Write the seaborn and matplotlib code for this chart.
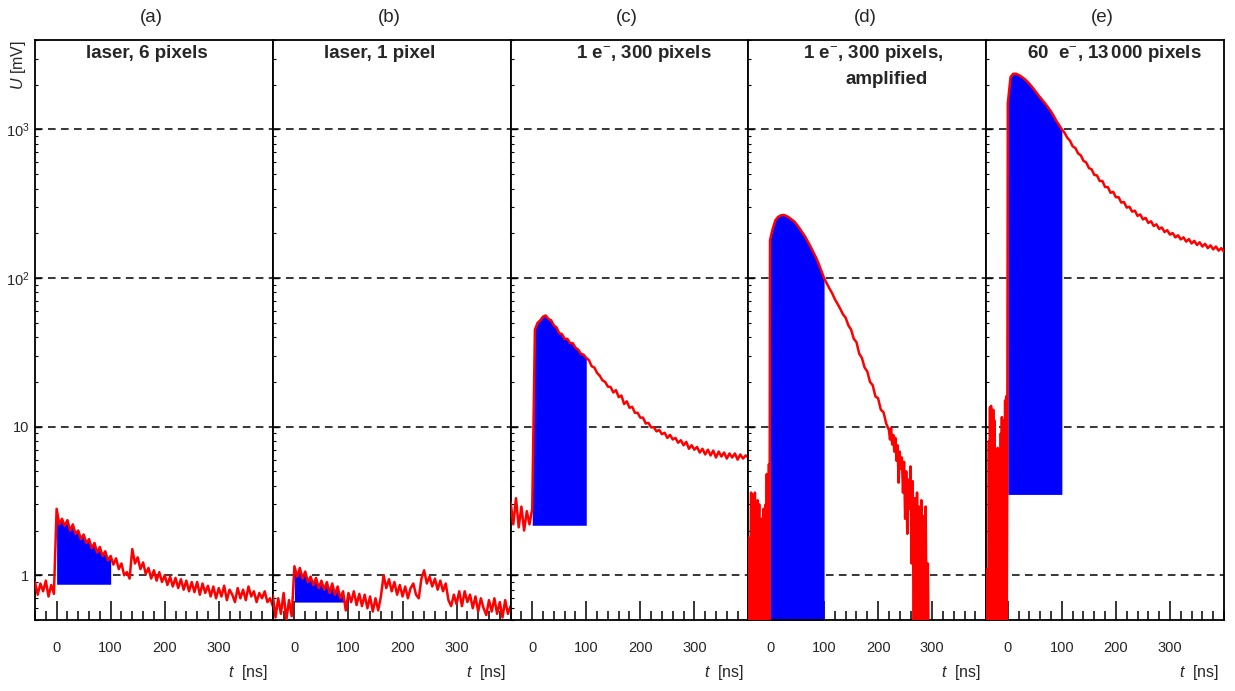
import numpy as np
import pandas as pd
import matplotlib
matplotlib.use("Agg")
import matplotlib.pyplot as plt
import seaborn as sns
from matplotlib.ticker import (FixedLocator, FixedFormatter, MultipleLocator,
                               LogLocator, NullFormatter)

sns.set_theme(style="ticks")
plt.rcParams["font.family"] = ["Liberation Sans", "DejaVu Sans"]
plt.rcParams["mathtext.fontset"] = "custom"
plt.rcParams["mathtext.rm"] = "Liberation Sans"
plt.rcParams["mathtext.it"] = "Liberation Sans:italic"
plt.rcParams["mathtext.bf"] = "Liberation Sans:bold"

# ---------------- data ----------------
panel_tags = ["(a)", "(b)", "(c)", "(d)", "(e)"]
panel_labels = ["laser, 6 pixels", "laser, 1 pixel", "1 e$^{-}$, 300 pixels",
                "1 e$^{-}$, 300 pixels,", "60  e$^{-}$, 13$\\,$000 pixels"]
panel_label2 = ["", "", "", "amplified", ""]
ytick_vals = [1, 10, 100, 1000]
ytick_labels = ["1", "10", "$10^2$", "$10^3$"]
xtick_vals = [0, 100, 200, 300]
xtick_labels = ["0", "100", "200", "300"]
fill_start, fill_end = 0, 100
fill_base = [0.87, 0.66, 2.17, 0.1, 3.5]

# sample times [ns]
t_5ns = np.arange(-40, 401, 5)
t_pre_1ns = np.arange(-40, 0, 1)
t_post_5ns = np.arange(0, 401, 5)
t_d = np.concatenate([np.arange(-40, 0, 1), np.arange(0, 220, 5),
                      np.arange(220, 300, 2), np.arange(300, 401, 5)])

u_a = [0.9, 0.74, 0.88, 0.78, 0.92, 0.72, 0.86, 0.75,
       2.8, 2.2, 2.4, 2.15, 2.35, 2.0, 2.2, 1.9, 2.0, 1.75, 1.88, 1.65, 1.75, 1.52, 1.65, 1.42, 1.55, 1.35, 1.45, 1.26, 1.35,
       1.18, 1.3, 1.1, 1.2, 1.0, 1.05, 0.95, 1.5, 1.2, 1.32, 1.1, 1.22, 1.02, 1.12, 0.95, 1.08, 0.92, 1.05, 0.9, 1.0,
       0.86, 0.98, 0.84, 0.96, 0.82, 0.94, 0.8, 0.92, 0.78, 0.9, 0.77, 0.9, 0.74, 0.88, 0.76, 0.85, 0.72, 0.84, 0.7, 0.82,
       0.72, 0.85, 0.68, 0.8, 0.74, 0.66, 0.82, 0.7, 0.8, 0.68, 0.84, 0.72, 0.78, 0.66, 0.76, 0.7, 0.78, 0.66, 0.7, 0.62]

u_b = [0.74, 0.52, 0.7, 0.55, 0.76, 0.5, 0.68, 0.53,
       1.15, 0.98, 1.12, 0.95, 1.06, 0.9, 0.98, 0.86, 0.96, 0.82, 0.92, 0.8, 0.9, 0.76, 0.88, 0.74, 0.84, 0.7, 0.78, 0.58, 0.76,
       0.66, 0.78, 0.63, 0.75, 0.62, 0.74, 0.6, 0.72, 0.57, 0.7, 0.58, 0.72, 1.0, 0.82, 0.94, 0.78, 0.9, 0.74, 0.86, 0.72,
       0.84, 0.7, 0.82, 0.88, 0.74, 0.7, 0.95, 1.08, 0.88, 0.98, 0.84, 0.95, 0.8, 0.92, 0.78, 0.88, 0.68, 0.62, 0.74, 0.64,
       0.78, 0.62, 0.78, 0.66, 0.74, 0.6, 0.72, 0.57, 0.7, 0.6, 0.54, 0.68, 0.57, 0.7, 0.55, 0.66, 0.52, 0.68, 0.55, 0.62]

u_c = [3.1, 2.2, 3.3, 2.1, 2.9, 2.0, 2.7, 2.2,
       2.8, 45, 50, 52, 55, 56, 53, 52, 48, 46.5, 42.5, 42, 39, 39, 36.5, 36.5, 34, 33, 31, 30.5, 29,
       28, 25.5, 25, 23, 22, 20.5, 20, 18.6, 18.5, 17, 17.6, 15.8, 16.2, 14.2, 14.8, 13.4, 13.6, 12.4, 12.4, 11.5,
       11.5, 10.5, 10.6, 9.9, 9.9, 9.3, 9.5, 8.9, 9.1, 8.4, 8.8, 8.2, 8.4, 7.8, 8.1, 7.5, 7.9, 7.1, 7.5, 7.0,
       7.3, 6.7, 7.1, 6.5, 7.0, 6.4, 6.9, 6.2, 6.8, 6.3, 6.7, 6.1, 6.6, 6.2, 6.6, 6.0, 6.5, 6.1, 6.4, 6.2]

u_d = [1.8, 0.3, 1.7, 0.4, 1.2, 3.6, 0.3, 3.5, 2.0, 0.2,
       3.4, 1.0, 3.6, 0.3, 2.6, 0.4, 2.2, 3.2, 0.3, 1.5,
       3.0, 0.2, 1.8, 0.5, 2.4, 0.3, 1.4, 0.3, 2.8, 0.6,
       2.0, 0.2, 3.0, 0.4, 4.8, 0.3, 3.8, 1.0, 5.6, 0.3,
       180, 215, 245, 258, 264, 266, 262, 256, 248, 240, 228, 215, 202, 190, 176, 163, 150, 138, 125, 112, 100,
       92, 85, 79, 72, 67, 62, 57, 54, 48, 45, 39, 37, 31, 29, 25, 23.5, 20, 19, 16, 15.5, 13, 12.5, 10.5,
       9.5, 8.2, 9.8, 7.6, 8.8, 6.8, 8.4, 5.9, 7.5, 4.2,
       6.8, 5.2, 6.2, 3.6, 5.8, 2.4, 5.0, 1.9, 4.4, 2.8,
       5.4, 1.2, 4.3, 0.3, 3.3, 0.4, 3.6, 0.3, 2.9, 0.4,
       3.2, 0.3, 2.5, 0.3, 2.9, 0.3, 1.2, 0.2, 0.2, 0.2,
       0.2, 0.2, 0.2, 0.2, 0.2, 0.2, 0.2, 0.2, 0.2, 0.2, 0.2, 0.2, 0.2, 0.2, 0.2, 0.2, 0.2, 0.2, 0.2, 0.2, 0.2]

u_e_pre = [0.3, 1.1, 0.2, 1.0, 0.3, 8, 0.2, 13.5, 0.4, 13.8,
           0.3, 12, 0.2, 13, 0.5, 11, 0.3, 7, 0.2, 6.5,
           0.4, 7.2, 0.3, 6, 0.2, 7, 0.4, 9, 0.3, 11.6,
           0.2, 11, 0.5, 8, 0.3, 15, 0.2, 16, 0.4, 5]
u_e_post = [1500, 2250, 2370, 2370, 2330, 2270, 2200, 2120, 2030, 1930, 1830, 1730, 1640, 1560, 1480, 1400, 1320, 1230, 1140, 1070, 1000,
            950, 880, 840, 770, 750, 690, 670, 615, 600, 550, 540, 495, 490, 450, 450, 410, 410, 375, 380, 350,
            350, 322, 325, 298, 302, 280, 284, 262, 268, 248, 254, 235, 241, 224, 230, 214, 219, 204, 210, 196,
            201, 188, 194, 182, 188, 176, 183, 171, 178, 167, 174, 163, 170, 159, 166, 156, 163, 153, 159, 150]

traces = [
    (t_5ns, np.array(u_a)),
    (t_5ns, np.array(u_b)),
    (t_5ns, np.array(u_c)),
    (t_d, np.array(u_d)),
    (np.concatenate([t_pre_1ns, t_post_5ns]), np.array(u_e_pre + u_e_post)),
]
for t, u in traces:
    assert len(t) == len(u), (len(t), len(u))

# ---------------- figure ----------------
W, H = 1235, 691
fig, axes = plt.subplots(1, 5, figsize=(W / 100, H / 100), dpi=100, sharey=True)
ax_left, ax_right, ax_top, ax_bot = 35, 1224, 40, 620
fig.subplots_adjust(left=ax_left / W, right=ax_right / W, top=1 - ax_top / H,
                    bottom=1 - ax_bot / H, wspace=0)
ax_h = ax_bot - ax_top

for i, ax in enumerate(axes):
    t, u = traces[i]
    ax.set_yscale("log")
    m = (t >= fill_start) & (t <= fill_end)
    ax.fill_between(t[m], fill_base[i], u[m], color="#0000FF", lw=0, zorder=2)
    df = pd.DataFrame({"t": t, "U": u})
    sns.lineplot(data=df, x="t", y="U", ax=ax, color="#FF0000", lw=1.8,
                 estimator=None, sort=False, legend=False, zorder=3)
    ax.set_xlabel("")
    ax.set_ylabel("")
    ax.set_xlim(-40, 400)
    ax.set_ylim(0.5, 4000)

    ax.xaxis.set_major_locator(FixedLocator(xtick_vals))
    ax.xaxis.set_major_formatter(FixedFormatter(xtick_labels))
    ax.xaxis.set_minor_locator(MultipleLocator(20))

    ax.tick_params(axis="x", which="major", direction="in", length=14, width=1.1,
                   pad=15, labelsize=10.5, bottom=True, top=False, color="black")
    ax.tick_params(axis="x", which="minor", direction="in", length=6.5, width=1.1,
                   bottom=True, top=False, color="black")
    ax.tick_params(axis="y", which="major", direction="in", length=4, width=1.0,
                   left=True, right=False, labelsize=10.5, pad=4, color="black")
    ax.tick_params(axis="y", which="minor", direction="in", length=2.5, width=0.8,
                   left=True, right=False, color="black")

    ax.grid(True, axis="y", which="major", color="black", ls=(0, (5, 3.5)), lw=1.1)
    ax.grid(False, axis="x")
    ax.set_axisbelow(True)
    for s in ax.spines.values():
        s.set_color("black")
        s.set_linewidth(1.3)

    ax.text(0.49, 1 + 23 / ax_h, panel_tags[i], transform=ax.transAxes,
            ha="center", va="center", fontsize=13.5)
    label_x = [0.471, 0.451, 0.561, 0.524, 0.537][i]
    ax.text(label_x, 1 - 13 / ax_h, panel_labels[i], transform=ax.transAxes,
            ha="center", va="center", fontsize=13.5, fontweight="bold")
    if panel_label2[i]:
        ax.text(0.583, 1 - 39 / ax_h, panel_label2[i], transform=ax.transAxes,
                ha="center", va="center", fontsize=13.5, fontweight="bold")
    ax.text(0.98, -52 / ax_h, "$t$  [ns]", transform=ax.transAxes,
            ha="right", va="center", fontsize=11.5)

# shared y axis ticks (set after all log scales are in place)
axes[0].yaxis.set_major_locator(FixedLocator(ytick_vals))
axes[0].yaxis.set_major_formatter(FixedFormatter(ytick_labels))
axes[0].yaxis.set_minor_locator(LogLocator(base=10, subs=np.arange(2, 10)))
axes[0].yaxis.set_minor_formatter(NullFormatter())

fig.text(18 / W, 1 - 40 / H, "$U$ [mV]", rotation=90, ha="center", va="top",
         fontsize=11.5)

fig.savefig("out.png", dpi=100)
